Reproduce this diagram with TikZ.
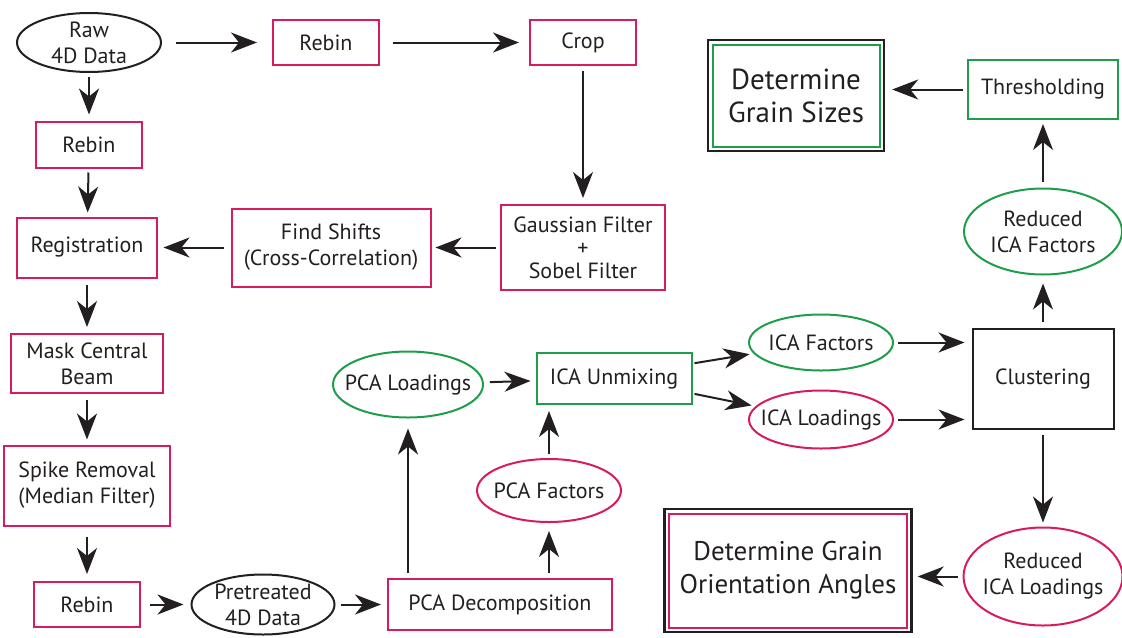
\documentclass[tikz,border=0pt]{standalone}
\usepackage{fontspec}
\setmainfont{PT Sans}
\usetikzlibrary{arrows.meta,shapes.geometric}
\usetikzlibrary{positioning,fit}
\definecolor{boxpink}{RGB}{216,27,96}
\definecolor{boxgreen}{RGB}{30,158,72}
\definecolor{ink}{RGB}{35,31,32}
\tikzset{box node/.style={rectangle,draw=ink,line width=1pt,align=center,inner sep=0pt,text=ink,
              font=\fontsize{11}{13}\selectfont},
         pink node/.style={box node,draw=boxpink},
         green node/.style={box node,draw=boxgreen},
         black node/.style={box node,draw=ink},
         oval node/.style={ellipse,draw=ink,line width=1pt,align=center,inner xsep=-8pt,inner ysep=-2pt,
              text=ink,font=\fontsize{11}{13}\selectfont},
         pink oval/.style={oval node,draw=boxpink},
         green oval/.style={oval node,draw=boxgreen},
         black oval/.style={oval node,draw=ink},
         frame node/.style={rectangle,draw=ink,line width=1.2pt,inner sep=1.75pt},
         flow/.style={->,line width=1pt,draw=ink},
            }

\begin{document}
\begin{tikzpicture}[x=1pt,y=1pt,on grid,>={Stealth[length=13pt,width=10pt,inset=4pt]}]
    \useasboundingbox (-44.5,-297.25) rectangle (516.5,21.25);

    % pretreatment
    \node[black oval,minimum width=72pt,minimum height=29.5pt] (raw) {Raw\\4D Data};
    \node[pink node,minimum width=53pt,minimum height=22.5pt] (rebin1) [right=118.5pt of raw] {Rebin};
    \node[pink node,minimum width=53pt,minimum height=22.5pt] (crop) [right=128.5pt of rebin1] {Crop};
    \node[pink node,minimum width=82pt,minimum height=42.5pt,font=\fontsize{11}{11.5}\selectfont] (filter) [below=102.5pt of crop] {Gaussian Filter\\+\\Sobel Filter};
    \node[pink node,minimum width=99.5pt,minimum height=39pt] (shifts) [left=126pt of filter] {Find Shifts\\(Cross-Correlation)};
    \node[pink node,minimum width=69.5pt,minimum height=30pt] (regist) [left=122pt of shifts] {Registration};
    \node[pink node,minimum width=53pt,minimum height=23pt] (rebin2) [below=51pt of raw] {Rebin};
    \node[pink node,minimum width=76pt,minimum height=29.5pt] (mask) [below=58pt of regist] {Mask Central\\Beam};
    \node[pink node,minimum width=82.5pt,minimum height=40pt] (spike) [below=61pt of mask] {Spike Removal\\(Median Filter)};
    \node[pink node,minimum width=53pt,minimum height=22.5pt] (rebin3) [below=59.5pt of spike] {Rebin};
    \node[black oval,minimum width=71.5pt,minimum height=30pt] (pretr) [right=88pt of rebin3] {Pretreated\\4D Data};

    % decomposition
    \node[pink node,minimum width=112pt,minimum height=25.5pt] (pcadec) [right=118.5pt of pretr] {PCA Decomposition};
    \node[pink oval,minimum width=72pt,minimum height=31.5pt] (pcafac) [above right=57pt and 24.5pt of pcadec] {PCA Factors};
    \node[green oval,minimum width=75pt,minimum height=33pt] (pcaload) [above left=110pt and 46pt of pcadec] {PCA Loadings};
    \node[green node,minimum width=77.5pt,minimum height=25.5pt] (unmix) [above right=3pt and 103pt of pcaload] {ICA Unmixing};
    \node[green oval,minimum width=72pt,minimum height=28pt] (icafac) [above right=18pt and 103.5pt of unmix] {ICA Factors};
    \node[pink oval,minimum width=72pt,minimum height=29pt] (icaload) [below=38.5pt of icafac] {ICA Loadings};
    \node[black node,minimum width=70.5pt,minimum height=50pt] (clust) [right=214.5pt of unmix] {Clustering};

    % results
    \node[green oval,minimum width=79pt,minimum height=43pt] (redfac) [above=73.5pt of clust] {Reduced\\ICA Factors};
    \node[green node,minimum width=75pt,minimum height=29.5pt] (thresh) [above=71pt of redfac] {Thresholding};
    \node[green node,minimum width=83.5pt,minimum height=51pt,font=\fontsize{14.5}{16.5}\selectfont] (sizes) [below left=3pt and 123.5pt of thresh] {Determine\\Grain Sizes};
    \node[frame node,fit=(sizes)] (sizesframe) {};
    \node[pink oval,minimum width=79.5pt,minimum height=49pt] (redload) [below=99pt of clust] {Reduced\\ICA Loadings};
    \node[pink node,minimum width=119pt,minimum height=57pt,font=\fontsize{13.5}{16.5}\selectfont] (angles) [above left=3pt and 127.5pt of redload] {Determine Grain\\Orientation Angles};
    \node[frame node,fit=(angles)] (anglesframe) {};

    \path[every edge/.style={flow}]
    (raw) edge[shorten <=7pt,shorten >=7.5pt] (rebin1)
    (rebin1) edge[shorten <=6.5pt,shorten >=5pt] (crop)
    (crop) edge[shorten <=2.5pt,shorten >=3pt] (filter)
    (filter) edge[shorten <=2pt,shorten >=2pt] (shifts)
    (shifts) edge[shorten <=3.5pt,shorten >=3pt] (regist)
    (raw) edge[shorten <=2pt,shorten >=3pt] (rebin2)
    (rebin2) edge[shorten <=2pt,shorten >=2pt] (regist)
    (regist) edge[shorten <=3pt,shorten >=3pt] (mask)
    (mask) edge[shorten <=3pt,shorten >=2.5pt] (spike)
    (spike) edge[shorten <=5pt,shorten >=3.5pt] (rebin3)
    (rebin3) edge[shorten <=4.5pt,shorten >=3.5pt] (pretr)
    (pretr) edge[shorten <=2.5pt,shorten >=3pt] (pcadec)
    (pcaload |- pcadec.north) edge[shorten <=2.5pt,shorten >=5pt] (pcaload)
    (pcafac |- pcadec.north) edge[shorten <=2.5pt,shorten >=4pt] (pcafac)
    (pcafac) edge[shorten <=2pt,shorten >=3pt] (pcafac |- unmix.south)
    (pcaload) edge[shorten <=3pt,shorten >=2.5pt] (unmix)
    ([yshift=7.5pt]unmix.east) edge[shorten <=1pt,shorten >=2pt] (icafac)
    ([yshift=-7.5pt]unmix.east) edge[shorten <=1pt,shorten >=2pt] (icaload)
    (icafac) edge[shorten <=2pt,shorten >=3.5pt] (icafac -| clust.west)
    (icaload) edge[shorten <=2pt,shorten >=3.5pt] (icaload -| clust.west)
    (clust) edge[shorten <=3pt,shorten >=4pt] (redfac)
    (redfac) edge[shorten <=3pt,shorten >=2pt] (thresh)
    (thresh) edge[shorten <=2pt,shorten >=3.5pt] (thresh -| sizesframe.east)
    (clust) edge[shorten <=2.5pt,shorten >=2pt] (redload)
    (redload) edge[shorten <=2.5pt,shorten >=2.5pt] (redload -| anglesframe.east);
  \end{tikzpicture}
\end{document}
